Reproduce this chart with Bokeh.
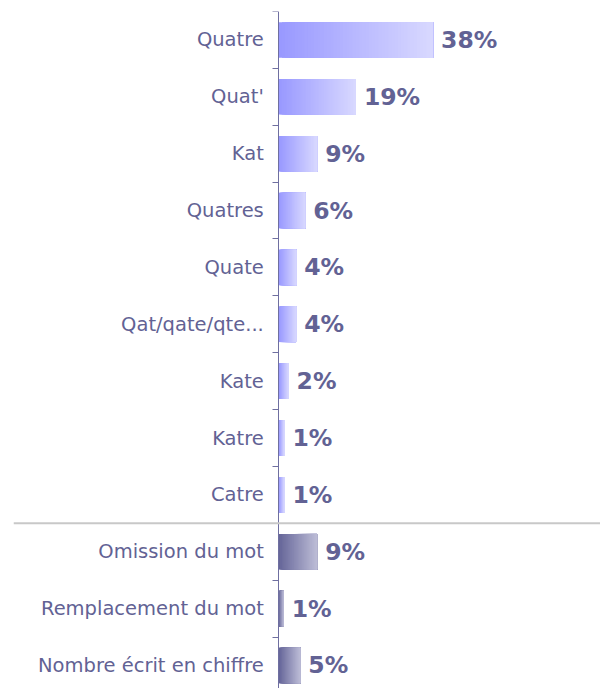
from bokeh.plotting import figure
from bokeh.models import Range1d, FixedTicker, Span, ColumnDataSource
from bokeh.embed import file_html
from bokeh.resources import INLINE
from bokeh.core.properties import value

categories = ["Quatre", "Quat'", "Kat", "Quatres", "Quate", "Qat/qate/qte...",
              "Kate", "Katre", "Catre",
              "Omission du mot", "Remplacement du mot", "Nombre écrit en chiffre"]
values = [38.0, 19.0, 9.45, 6.5, 4.3, 4.3, 2.4, 1.4, 1.4, 9.45, 1.2, 5.3]
value_labels = ["38%", "19%", "9%", "6%", "4%", "4%", "2%", "1%", "1%", "9%", "1%", "5%"]
groups = ["graphie"] * 9 + ["autre"] * 3

group_colors = {"graphie": ("#9999ff", "#d8d8ff"), "autre": ("#666699", "#bcbcd6")}
TEXT = "#626294"
N_STEPS = 48
BAR_H = 0.625


def hex2rgb(h):
    h = h.lstrip("#")
    return tuple(int(h[i:i + 2], 16) for i in (0, 2, 4))


def mix(c0, c1, t):
    a, b = hex2rgb(c0), hex2rgb(c1)
    return "#%02x%02x%02x" % tuple(round(a[i] + (b[i] - a[i]) * t) for i in range(3))


n = len(categories)
rows = list(range(n))

# gradient strips (each strip runs to the bar end so no seams appear)
L, R, T, B, C = [], [], [], [], []
for i, (v, g) in enumerate(zip(values, groups)):
    c0, c1 = group_colors[g]
    for k in range(N_STEPS):
        t = k / (N_STEPS - 1)
        L.append(v * k / N_STEPS)
        R.append(v)
        T.append(i - BAR_H / 2)
        B.append(i + BAR_H / 2)
        C.append(mix(c0, c1, t))
strips = ColumnDataSource(dict(left=L, right=R, top=T, bottom=B, color=C))

p = figure(width=600, height=688, output_backend="svg", toolbar_location=None,
           x_range=Range1d(-65.35, 79.25), y_range=Range1d(n - 0.595, -0.5),
           min_border_left=13, min_border_right=0, min_border_top=11, min_border_bottom=0)
p.outline_line_color = None
p.xgrid.visible = False
p.ygrid.visible = False
p.xaxis.visible = False

p.quad(left="left", right="right", top="top", bottom="bottom", color="color",
       line_color=None, source=strips)

labels = ColumnDataSource(dict(x=values, y=rows, text=value_labels))
p.text(x="x", y="y", text="text", source=labels, x_offset=8,
       text_font=value("DejaVu Sans"), text_font_style="bold",
       text_font_size="23.5px", text_color=TEXT, text_baseline="middle",
       text_align="left")

sep = Span(location=groups.index("autre") - 0.5, dimension="width",
           line_color="#c8c8c8", line_width=2)
p.add_layout(sep)

ax = p.yaxis[0]
ax.fixed_location = 0
ax.ticker = FixedTicker(ticks=rows, minor_ticks=[i - 0.5 for i in range(n + 1)])
ax.major_label_overrides = {i: c for i, c in enumerate(categories)}
ax.major_tick_out = 0
ax.major_tick_in = 0
ax.minor_tick_out = 6
ax.minor_tick_in = 0
ax.minor_tick_line_color = "#6f6fa0"
ax.axis_line_color = "#6f6fa0"
ax.major_label_standoff = 9
ax.major_label_text_font = "DejaVu Sans"
ax.major_label_text_font_size = "19.5px"
ax.major_label_text_color = TEXT

open("out.html", "w").write(file_html(p, INLINE))
